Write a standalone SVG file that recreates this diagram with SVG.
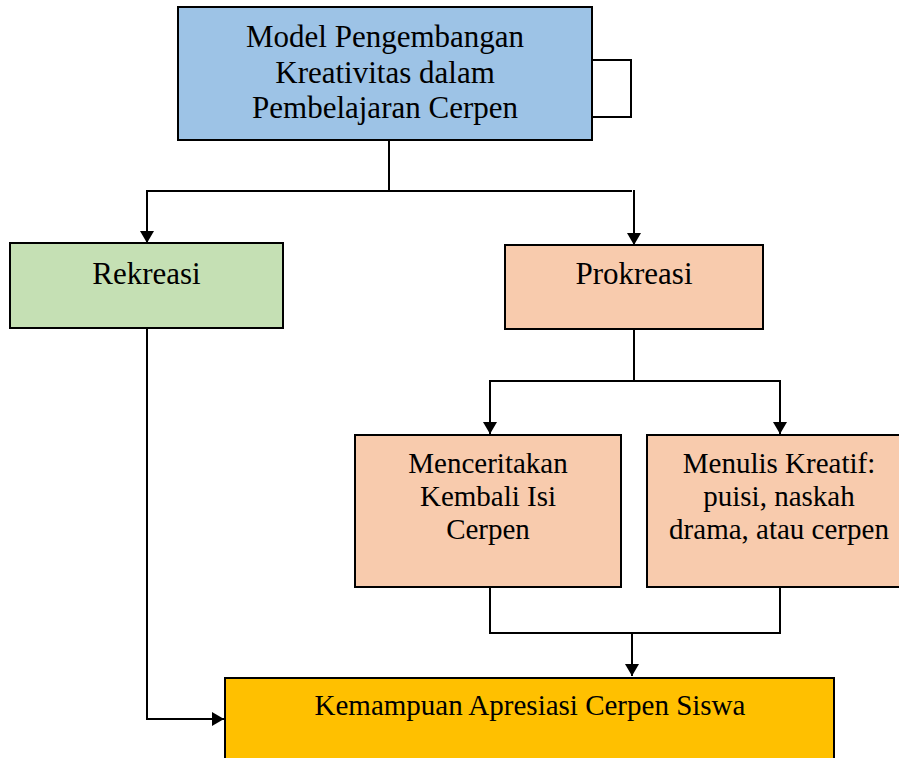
<svg xmlns="http://www.w3.org/2000/svg" width="899" height="758" viewBox="0 0 899 758">
<style>
.box{stroke:#000;stroke-width:2}
.t{font-family:"Liberation Serif","Times New Roman",serif;fill:#000;text-anchor:middle}
.big{font-size:31px}
.sm{font-size:29px}
.ln{fill:none;stroke:#000;stroke-width:2}
</style>
<defs>
<marker id="ah" viewBox="0 0 12 14" refX="12" refY="7" markerWidth="12" markerHeight="14" markerUnits="userSpaceOnUse" orient="auto">
<path d="M0,0 L12,7 L0,14 Z" fill="#000"/>
</marker>
</defs>
<rect width="899" height="758" fill="#fff"/>
<g id="connectors">
<polyline class="ln" points="592,60 631,60 631,117 592,117"/>
<line class="ln" x1="389" y1="140" x2="389" y2="191"/>
<polyline class="ln" points="147,191 632,191"/>
<line class="ln" x1="147" y1="190" x2="147" y2="243" marker-end="url(#ah)"/>
<line class="ln" x1="634" y1="190" x2="634" y2="245" marker-end="url(#ah)"/>
<line class="ln" x1="634" y1="329" x2="634" y2="382"/>
<line class="ln" x1="489" y1="381" x2="781" y2="381"/>
<line class="ln" x1="490" y1="380" x2="490" y2="434" marker-end="url(#ah)"/>
<line class="ln" x1="780" y1="380" x2="780" y2="434" marker-end="url(#ah)"/>
<polyline class="ln" points="490,587 490,633 780,633 780,587"/>
<line class="ln" x1="632" y1="633" x2="632" y2="676" marker-end="url(#ah)"/>
<polyline class="ln" points="147,328 147,719 224,719" marker-end="url(#ah)"/>
</g>
<g id="model">
<rect class="box" x="178" y="7" width="414" height="133" fill="#9DC3E6"/>
<text class="t big" x="385" y="47">Model Pengembangan</text>
<text class="t big" x="385" y="82.5">Kreativitas dalam</text>
<text class="t big" x="385" y="118">Pembelajaran Cerpen</text>
</g>
<g id="rekreasi">
<rect class="box" x="10" y="243" width="273" height="85" fill="#C5E0B4"/>
<text class="t big" x="146.5" y="284">Rekreasi</text>
</g>
<g id="prokreasi">
<rect class="box" x="505" y="245" width="258" height="84" fill="#F8CBAD"/>
<text class="t big" x="634" y="284">Prokreasi</text>
</g>
<g id="menceritakan">
<rect class="box" x="355" y="435" width="266" height="152" fill="#F8CBAD"/>
<text class="t sm" x="488" y="473">Menceritakan</text>
<text class="t sm" x="488" y="506">Kembali Isi</text>
<text class="t sm" x="488" y="539">Cerpen</text>
</g>
<g id="menulis">
<rect class="box" x="647" y="435" width="262" height="152" fill="#F8CBAD"/>
<text class="t sm" x="779" y="473">Menulis Kreatif:</text>
<text class="t sm" x="779" y="506">puisi, naskah</text>
<text class="t sm" x="779" y="539">drama, atau cerpen</text>
</g>
<g id="kemampuan">
<rect class="box" x="225" y="678" width="609" height="100" fill="#FFC000"/>
<text class="t sm" x="530" y="715">Kemampuan Apresiasi Cerpen Siswa</text>
</g>
</svg>
